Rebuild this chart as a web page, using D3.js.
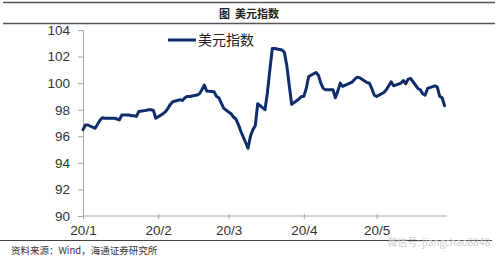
<!DOCTYPE html>
<html>
<head>
<meta charset="utf-8">
<script src="https://cdn.jsdelivr.net/npm/d3@7"></script>
<style>
  html, body { margin: 0; padding: 0; background: #fff; }
  svg { display: block; }
  text { font-family: "Liberation Sans", Arial, sans-serif; }
  .cjk { font-family: "Noto Sans CJK SC", sans-serif; }
</style>
</head>
<body>
<div id="chart"></div>
<script>
// 美元指数, daily, 2020-01-01 .. 2020-05-29
const dates = [
  "2020-01-01","2020-01-02","2020-01-03","2020-01-06","2020-01-07","2020-01-08","2020-01-09","2020-01-10",
  "2020-01-13","2020-01-14","2020-01-15","2020-01-16","2020-01-17","2020-01-20","2020-01-21","2020-01-22",
  "2020-01-23","2020-01-24","2020-01-27","2020-01-28","2020-01-29","2020-01-30","2020-01-31",
  "2020-02-03","2020-02-04","2020-02-05","2020-02-06","2020-02-07","2020-02-10","2020-02-11","2020-02-12",
  "2020-02-13","2020-02-14","2020-02-17","2020-02-18","2020-02-19","2020-02-20","2020-02-21","2020-02-24",
  "2020-02-25","2020-02-26","2020-02-27","2020-02-28",
  "2020-03-02","2020-03-03","2020-03-04","2020-03-05","2020-03-06","2020-03-09","2020-03-10","2020-03-11",
  "2020-03-12","2020-03-13","2020-03-16","2020-03-17","2020-03-18","2020-03-19","2020-03-20","2020-03-23",
  "2020-03-24","2020-03-25","2020-03-26","2020-03-27","2020-03-30","2020-03-31",
  "2020-04-01","2020-04-02","2020-04-03","2020-04-06","2020-04-07","2020-04-08","2020-04-09","2020-04-10",
  "2020-04-13","2020-04-14","2020-04-15","2020-04-16","2020-04-17","2020-04-20","2020-04-21","2020-04-22",
  "2020-04-23","2020-04-24","2020-04-27","2020-04-28","2020-04-29","2020-04-30",
  "2020-05-01","2020-05-04","2020-05-05","2020-05-06","2020-05-07","2020-05-08","2020-05-11","2020-05-12",
  "2020-05-13","2020-05-14","2020-05-15","2020-05-18","2020-05-19","2020-05-20","2020-05-21","2020-05-22",
  "2020-05-25","2020-05-26","2020-05-27","2020-05-28","2020-05-29"
]
const values = [
  96.5, 96.85, 96.85, 96.6, 96.9, 97.2, 97.4, 97.36,
  97.35, 97.36, 97.3, 97.23, 97.6, 97.6, 97.55, 97.55,
  97.5, 97.86, 97.95, 98.0, 98.0, 97.95, 97.36,
  97.7, 97.85, 98.1, 98.4, 98.6, 98.75, 98.7, 98.9,
  99.0, 99.0, 99.1, 99.2, 99.5, 99.86, 99.4, 99.35,
  99.0, 98.9, 98.5, 98.1,
  97.7, 97.45, 97.3, 96.9, 96.4, 95.1, 96.0, 96.5,
  96.8, 98.45, 98.0, 99.3, 101.0, 102.6, 102.6, 102.5,
  102.3, 101.3, 99.8, 98.4, 98.8, 99.0,
  99.0, 99.6, 100.5, 100.8, 100.6, 100.0, 99.6, 99.5,
  99.5, 98.9, 99.4, 100.0, 99.75, 100.0, 100.1, 100.3,
  100.45, 100.4, 100.05, 100.0, 99.6, 99.1,
  99.0, 99.3, 99.5, 99.8, 100.1, 99.8, 100.0, 100.2,
  99.95, 100.3, 100.35, 99.6, 99.5, 99.2, 99.1, 99.6,
  99.8, 99.7, 99.0, 98.9, 98.3
]
const yTicks = [90, 92, 94, 96, 98, 100, 102, 104]
const xTicks = ["2020-01-01", "2020-02-01", "2020-03-01", "2020-04-01", "2020-05-01"]
const xTickLabels = ["20/1", "20/2", "20/3", "20/4", "20/5"]
const title = "图  美元指数"
const seriesName = "美元指数"
const source = "资料来源：Wind，海通证券研究所"

const width = 499, height = 263
const parse = d3.timeParse("%Y-%m-%d")
const data = dates.map((d, i) => ({ date: parse(d), value: values[i] }))

const svg = d3.select("#chart").append("svg")
  .attr("width", width)
  .attr("height", height)

// header rules + title
svg.append("line").attr("x1", 3).attr("x2", 495).attr("y1", 2.5).attr("y2", 2.5)
  .attr("stroke", "#555").attr("stroke-width", 1.5)
svg.append("line").attr("x1", 3).attr("x2", 495).attr("y1", 23.5).attr("y2", 23.5)
  .attr("stroke", "#555").attr("stroke-width", 1.5)
svg.append("text").attr("class", "cjk")
  .attr("x", 249).attr("y", 17.5)
  .attr("text-anchor", "middle")
  .attr("font-size", 11).attr("font-weight", "bold").attr("fill", "#222")
  .attr("xml:space", "preserve")
  .text(title)

const x = d3.scaleTime()
  .domain([parse("2020-01-01"), parse("2020-05-30")])
  .range([83, 447])
const y = d3.scaleLinear()
  .domain([90, 104])
  .range([216, 30])

// y axis
const yAxis = svg.append("g")
  .attr("transform", "translate(83,0)")
  .call(d3.axisLeft(y).tickValues(yTicks).tickSize(5).tickPadding(8).tickFormat(d3.format("d")))
yAxis.select(".domain").attr("stroke", "#a6a6a6")
yAxis.selectAll(".tick line").attr("stroke", "#a6a6a6")
yAxis.selectAll(".tick text")
  .attr("font-size", 13.5).attr("fill", "#333")
  .attr("font-family", "Liberation Sans, Arial, sans-serif")

// x axis
const xAxis = svg.append("g")
  .attr("transform", "translate(0,216)")
  .call(d3.axisBottom(x).tickValues(xTicks.map(parse)).tickSize(3).tickPadding(6)
    .tickFormat((d, i) => xTickLabels[i]))
xAxis.select(".domain").attr("stroke", "#a6a6a6").attr("d", "M83,0H447")
xAxis.selectAll(".tick line").attr("stroke", "#a6a6a6").attr("y1", -2)
xAxis.selectAll(".tick text")
  .attr("font-size", 13.5).attr("fill", "#333")
  .attr("font-family", "Liberation Sans, Arial, sans-serif")

// series
svg.append("path")
  .datum(data)
  .attr("fill", "none")
  .attr("stroke", "#0f2c6b")
  .attr("stroke-width", 3)
  .attr("stroke-linejoin", "round")
  .attr("stroke-linecap", "round")
  .attr("d", d3.line().x(d => x(d.date)).y(d => y(d.value)))

// legend
const legend = svg.append("g").attr("transform", "translate(168,40)")
legend.append("line").attr("x1", 0).attr("x2", 28).attr("y1", 0).attr("y2", 0)
  .attr("stroke", "#0f2c6b").attr("stroke-width", 3)
legend.append("text").attr("class", "cjk")
  .attr("x", 30).attr("y", 5)
  .attr("font-size", 14).attr("fill", "#222")
  .text(seriesName)

// footer
svg.append("line").attr("x1", 0).attr("x2", 492).attr("y1", 240.5).attr("y2", 240.5)
  .attr("stroke", "#444").attr("stroke-width", 1.2)
svg.append("text").attr("class", "cjk")
  .attr("x", 11).attr("y", 254)
  .attr("font-size", 9.5).attr("fill", "#333")
  .text(source)

// watermark (kept just clear of the 20/5 label)
svg.append("text").attr("class", "cjk")
  .attr("x", 490).attr("y", 246)
  .attr("text-anchor", "end")
  .attr("font-size", 10).attr("fill", "#c8c8c8").attr("opacity", 0.9)
  .text("微信号: jiangchao8848")
</script>
</body>
</html>
